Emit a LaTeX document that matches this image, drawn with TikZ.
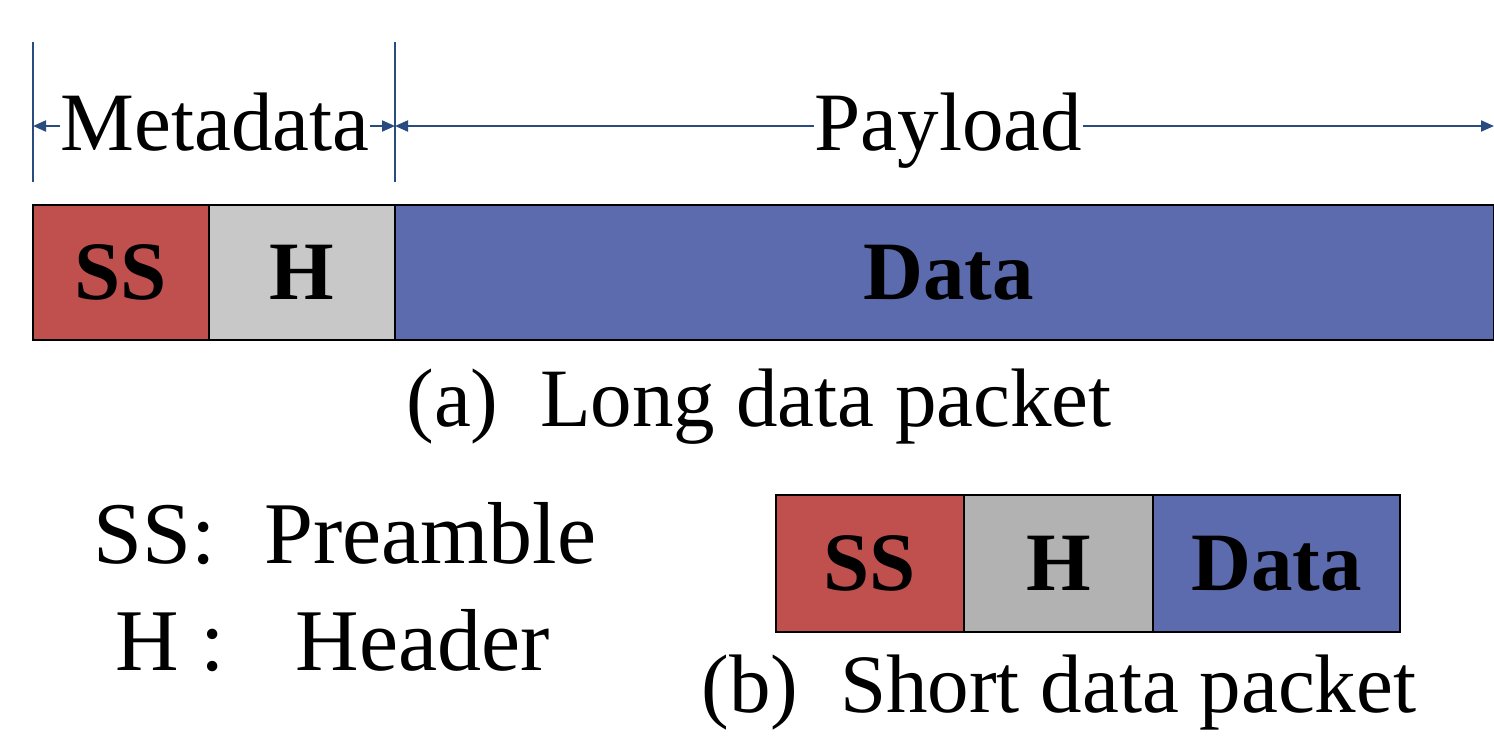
\documentclass[tikz,border=0pt]{standalone}
\usepackage{fontspec}
\setmainfont{Liberation Serif}
\usetikzlibrary{arrows.meta}
\definecolor{ssred}{HTML}{C0504D}
\definecolor{hgrayA}{HTML}{C8C8C8}
\definecolor{hgrayB}{HTML}{B2B2B2}
\definecolor{datablue}{HTML}{5B6BAE}
\definecolor{dimblue}{HTML}{2A4B80}
\tikzset{
  dimline/.style={draw=dimblue, line width=1pt},
  dimarrow/.style={draw=dimblue, line width=1pt, -{Triangle[length=6.5pt,width=5.5pt]}},
  cell/.style={draw=black, line width=1.1pt},
  big/.style={inner sep=0pt, font=\fontsize{41.5}{48}\selectfont},
  legend/.style={inner sep=0pt, font=\fontsize{44}{50}\selectfont},
  bold/.style={inner sep=0pt, font=\fontsize{41.5}{48}\selectfont\bfseries},
}
\begin{document}
\begin{tikzpicture}[x=0.5pt,y=-0.5pt]
\useasboundingbox (0,0) rectangle (1494,735);
% dimension lines
\coordinate (v1t) at (33,42);
\coordinate (v1b) at (33,182);
\coordinate (v2t) at (395,42);
\coordinate (v2b) at (395,182);
\coordinate (L) at (33,126);
\coordinate (M) at (395,126);
\coordinate (R) at (1494,126);
\draw[dimline] (v1t) -- (v1b);
\draw[dimline] (v2t) -- (v2b);
\node[big, anchor=base] (meta) at (215,150) {Metadata};
\node[big, anchor=base] (pay) at (948.5,150) {Payload};
\draw[dimarrow] (meta.west |- L) -- (L);
\draw[dimarrow] (meta.east |- M) -- (M);
\draw[dimarrow] (pay.west |- M) -- (M);
\draw[dimarrow] (pay.east |- R) -- (R);
% long packet
\draw[cell, fill=ssred] (33,205) rectangle (209,340);
\draw[cell, fill=hgrayA] (209,205) rectangle (395,340);
\draw[cell, fill=datablue] (395,205) rectangle (1494,340);
\node[bold] (ssA) at (121,272.5) {SS};
\node[bold] (hA) at (302,272.5) {H};
\node[bold] (dA) at (948.5,272.5) {Data};
\node[big, anchor=base] (capA) at (759,426) {(a)\hspace{0.5em}Long data packet};
% legend
\node[legend, anchor=base west] (leg1) at (93,563) {SS:\hspace{0.55em}Preamble};
\node[legend, anchor=base west] (leg2) at (115,670) {H :\hspace{0.8em}Header};
% short packet
\draw[cell, fill=ssred] (776,495) rectangle (964,632);
\draw[cell, fill=hgrayB] (964,495) rectangle (1153,632);
\draw[cell, fill=datablue] (1153,495) rectangle (1400,632);
\node[bold] (ssB) at (870,563.5) {SS};
\node[bold] (hB) at (1058.5,563.5) {H};
\node[bold] (dB) at (1276.5,563.5) {Data};
\node[big, anchor=base] (capB) at (1059,712) {(b)\hspace{0.5em}Short data packet};
\end{tikzpicture}
\end{document}
